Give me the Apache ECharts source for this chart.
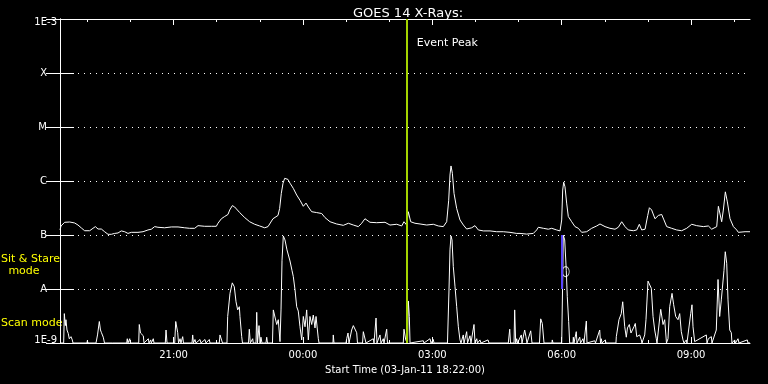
<!DOCTYPE html>
<html><head><meta charset="utf-8">
<script src="https://cdn.jsdelivr.net/npm/echarts@6/dist/echarts.min.js"></script>
<style>html,body{margin:0;padding:0;background:#000;}#c{width:768px;height:384px;}</style>
</head><body><div id="c"></div>
<script>
// ---- texts ----
const chartTitle = 'GOES 14 X-Rays:';
const xAxisTitle = 'Start Time (03-Jan-11 18:22:00)';
const eventLabel = 'Event Peak';
const modeLabels = ['Sit & Stare', 'mode', 'Scan mode'];
// ---- axes (time in minutes since 03-Jan-11 18:22) ----
const timeMin = 0, timeMax = 960;
const majorTickTimes = [158, 338, 518, 698, 878];
const majorTickLabels = ['21:00', '00:00', '03:00', '06:00', '09:00'];
const minorTickTimes = [38, 98, 218, 278, 398, 458, 578, 638, 758, 818, 938];
const yTickLabels = ['1E-9', 'A', 'B', 'C', 'M', 'X', '1E-3']; // exponents -9 .. -3
const eventTime = 482.4;
const stareMarkTime = 698, stareMarkFrom = 1e-7, stareMarkTo = 1e-8;
const circleTime = 703.6, circleFlux = 2.1e-8;

// ---- long channel (1-8 A) ----
const longTime = [
 0, 1.4, 6.5, 13.5, 20.4, 25, 29.7, 34.3, 41.3, 45.9,
 49.2, 52.9, 57.5, 62.1, 66.8, 71.4, 76, 80.7, 85.3, 90,
 94.6, 99.2, 108.5, 115.5, 122.4, 127.1, 131.7, 136.3, 145.6, 154.9,
 164.2, 173.5, 180.4, 187.4, 192, 201.3, 210.6, 217.5, 219.8, 224.5,
 229.1, 233.7, 236.1, 239.8, 243, 250, 257, 263.9, 270.9, 277.8,
 284.8, 289.4, 296.3, 303.3, 305.6, 307.9, 310.3, 312.6, 317.2, 320,
 324.6, 329.3, 333.9, 338.5, 342.3, 345.5, 350.1, 357.1, 364.1, 368.7,
 375.7, 384.9, 394.2, 401.2, 408.1, 415.1, 419.7, 424.3, 431.3, 440.6,
 452.2, 459.1, 468.5, 475.4, 478.6, 482.3, 484.6, 487.9, 493.9, 500.9,
 510.2, 519.4, 526.4, 533.3, 538, 540.8, 542.6, 544, 545.9, 548.2,
 551.9, 556.5, 561.2, 565.8, 572.8, 577.4, 582, 589, 598.3, 607.6,
 616.8, 626.1, 635.4, 640, 649.3, 658.5, 663.2, 665.5, 672.5, 679.4,
 684.1, 691, 695.7, 698, 699.4, 700.8, 702.6, 704.9, 707.2, 711.9,
 716.5, 721.2, 725.8, 732.8, 739.7, 746.7, 751.3, 758.3, 765.2, 772.2,
 776.8, 781.5, 786.1, 790.7, 797.7, 802.4, 806, 809.3, 814, 817.7,
 820, 823.2, 827.8, 832.5, 837.1, 840.3, 844.1, 851, 858, 864.9,
 871.9, 878.9, 885.8, 895.1, 902.1, 906.7, 913.7, 916, 918.3, 920.6,
 922.9, 925.7, 928.5, 932.2, 936.9, 941.5, 943.8, 946.1, 953.1, 960
];
const longFlux = [
 1.24e-7, 1.47e-7, 1.72e-7, 1.74e-7, 1.67e-7, 1.53e-7, 1.35e-7, 1.20e-7, 1.20e-7, 1.33e-7,
 1.43e-7, 1.29e-7, 1.29e-7, 1.15e-7, 1.03e-7, 1.03e-7, 1.07e-7, 1.09e-7, 1.19e-7, 1.15e-7,
 1.07e-7, 1.12e-7, 1.12e-7, 1.15e-7, 1.24e-7, 1.28e-7, 1.43e-7, 1.39e-7, 1.36e-7, 1.41e-7,
 1.41e-7, 1.36e-7, 1.33e-7, 1.33e-7, 1.49e-7, 1.45e-7, 1.45e-7, 1.45e-7, 1.65e-7, 2.0e-7,
 2.2e-7, 2.4e-7, 2.9e-7, 3.5e-7, 3.3e-7, 2.6e-7, 2.1e-7, 1.76e-7, 1.58e-7, 1.47e-7,
 1.36e-7, 1.43e-7, 2.0e-7, 2.3e-7, 3.1e-7, 5.9e-7, 9.1e-7, 1.12e-6, 1.07e-6, 9.1e-7,
 7.3e-7, 5.5e-7, 4.4e-7, 3.4e-7, 3.9e-7, 3.3e-7, 2.7e-7, 2.6e-7, 2.5e-7, 2.1e-7,
 1.76e-7, 1.60e-7, 1.51e-7, 1.65e-7, 1.53e-7, 1.43e-7, 1.65e-7, 2.0e-7, 1.72e-7, 1.69e-7,
 1.72e-7, 1.53e-7, 1.58e-7, 1.47e-7, 1.76e-7, 1.53e-7, 2.7e-7, 1.76e-7, 1.65e-7, 1.60e-7,
 1.53e-7, 1.58e-7, 1.47e-7, 1.43e-7, 1.76e-7, 4.4e-7, 1.29e-6, 1.90e-6, 1.39e-6, 5.9e-7,
 3.1e-7, 1.9e-7, 1.53e-7, 1.29e-7, 1.36e-7, 1.49e-7, 1.24e-7, 1.19e-7, 1.19e-7, 1.15e-7,
 1.15e-7, 1.12e-7, 1.07e-7, 1.07e-7, 1.04e-7, 1.07e-7, 1.24e-7, 1.39e-7, 1.33e-7, 1.28e-7,
 1.33e-7, 1.24e-7, 1.19e-7, 1.9e-7, 6.8e-7, 9.5e-7, 7.8e-7, 3.9e-7, 2.2e-7, 1.76e-7,
 1.43e-7, 1.33e-7, 1.12e-7, 1.15e-7, 1.33e-7, 1.47e-7, 1.60e-7, 1.43e-7, 1.33e-7, 1.28e-7,
 1.39e-7, 1.76e-7, 1.43e-7, 1.24e-7, 1.20e-7, 1.24e-7, 1.58e-7, 1.24e-7, 1.28e-7, 2.3e-7,
 3.2e-7, 2.9e-7, 2.0e-7, 2.3e-7, 2.4e-7, 1.9e-7, 1.43e-7, 1.33e-7, 1.24e-7, 1.20e-7,
 1.33e-7, 1.58e-7, 1.49e-7, 1.43e-7, 1.47e-7, 1.28e-7, 1.43e-7, 3.4e-7, 3.3e-7, 1.76e-7,
 2.9e-7, 6.3e-7, 4.1e-7, 2.0e-7, 1.43e-7, 1.24e-7, 1.12e-7, 1.15e-7, 1.15e-7, 1.15e-7
];

// ---- short channel (0.5-4 A) ----
const shortTime = [
 0, 5.1, 6.0, 7.4, 8.3, 9.7, 11.5, 12.9, 15.3, 17.1,
 18.1, 37.6, 38.0, 39.0, 50.1, 52.2, 54.7, 56.3, 57.7, 60.2,
 61.9, 73.3, 74.2, 75.1, 92.8, 93.6, 94.6, 97.0, 97.8, 109.5,
 110.3, 112.0, 113.7, 115.9, 116.9, 122.9, 123.8, 126.2, 127.0, 129.8,
 130.8, 146.5, 147.5, 148.9, 159.6, 161.0, 163.8, 164.9, 167.0, 168.3,
 170.7, 171.8, 183.7, 184.6, 185.7, 187.8, 189.2, 194.8, 196.2, 201.7,
 203.1, 207.7, 208.7, 221.6, 222.6, 225.0, 226.1, 232.3, 233.3, 236.5,
 239.7, 242.5, 244.9, 247.2, 249.5, 250.4, 252.8, 253.9, 262.3, 263.4,
 264.8, 268.1, 268.9, 272.7, 273.7, 274.8, 276.9, 278.3, 279.6, 281.0,
 286.6, 287.6, 288.7, 295.6, 296.8, 299.1, 301.5, 303.7, 306.1, 307.5,
 308.9, 310.7, 313.0, 315.8, 320.0, 322.8, 324.6, 327.0, 329.3, 331.5,
 333.9, 336.3, 338.5, 340.9, 343.2, 345.5, 347.8, 350.2, 352.4, 354.8,
 356.2, 359.4, 360.4, 379.8, 380.2, 381.2, 397.9, 398.9, 400.7, 402.1,
 405.8, 408.1, 410.4, 412.8, 413.9, 420.9, 422.0, 424.3, 425.7, 435.9,
 436.9, 439.7, 441.0, 445.2, 446.6, 449.8, 450.8, 454.5, 455.6, 477.6,
 478.6, 481.0, 483.5, 484.6, 486.0, 487.0, 505.5, 506.4, 514.8, 516.2,
 519.4, 520.3, 539.1, 541.2, 542.6, 544.0, 545.4, 547.2, 549.6, 551.9,
 554.2, 556.5, 557.9, 561.1, 562.1, 565.8, 567.0, 570.4, 571.8, 576.0,
 577.4, 579.8, 580.9, 584.3, 585.7, 595.5, 596.9, 623.7, 625.7, 626.8,
 631.7, 632.6, 634.0, 635.4, 636.5, 641.8, 642.8, 646.5, 648.3, 649.7,
 654.9, 656.7, 667.1, 668.8, 671.0, 673.4, 684.5, 684.9, 685.9, 698.0,
 699.4, 700.2, 702.2, 704.4, 705.8, 707.7, 709.1, 713.7, 714.2, 715.1,
 718.3, 719.3, 723.1, 724.2, 727.6, 729.0, 732.3, 733.2, 743.9, 745.0,
 750.9, 752.0, 753.1, 754.1, 758.7, 759.6, 773.5, 774.0, 777.7, 780.9,
 782.9, 785.7, 787.9, 789.5, 792.1, 794.4, 798.6, 800.4, 802.4, 806.5,
 808.8, 809.7, 813.5, 815.3, 818.1, 820.5, 822.7, 825.1, 827.4, 829.6,
 830.6, 834.4, 835.8, 839.0, 841.3, 843.8, 845.9, 848.3, 851.5, 853.8,
 856.6, 859.8, 862.2, 864.4, 866.8, 868.2, 871.4, 872.3, 877.5, 879.3,
 880.7, 883.0, 884.2, 899.2, 900.2, 902.0, 906.2, 907.1, 913.1, 915.5,
 917.8, 920.1, 923.8, 925.6, 927.6, 929.4, 931.8, 934.0, 934.9, 938.7,
 939.8, 943.3, 944.7, 956.2, 957.2, 960
];
const shortFlux = [
 1e-9, 1e-9, 3.5e-9, 2.1e-9, 2.7e-9, 1.74e-9, 1.5e-9, 1.2e-9, 1.31e-9, 1.14e-9,
 1e-9, 1e-9, 1.1e-9, 1e-9, 1e-9, 1.41e-9, 2.5e-9, 1.74e-9, 1.55e-9, 1.28e-9,
 1e-9, 1e-9, 1.06e-9, 1e-9, 1e-9, 1.2e-9, 1e-9, 1.2e-9, 1e-9, 1e-9,
 2.2e-9, 1.53e-9, 1.41e-9, 1.36e-9, 1e-9, 1.2e-9, 1e-9, 1.14e-9, 1e-9, 1.2e-9,
 1e-9, 1e-9, 1.74e-9, 1e-9, 1e-9, 2.5e-9, 1.55e-9, 1e-9, 1.2e-9, 1e-9,
 1.31e-9, 1e-9, 1e-9, 1.41e-9, 1e-9, 1.16e-9, 1e-9, 1.16e-9, 1e-9, 1.16e-9,
 1e-9, 1.16e-9, 1e-9, 1e-9, 1.41e-9, 1.31e-9, 1e-9, 1e-9, 3.1e-9, 8.3e-9,
 1.3e-8, 1.1e-8, 5.8e-9, 4.1e-9, 4.7e-9, 3.1e-9, 1.31e-9, 1e-9, 1e-9, 1.8e-9,
 1e-9, 1.2e-9, 1e-9, 1e-9, 3.7e-9, 1e-9, 2.1e-9, 1e-9, 1.28e-9, 1e-9,
 1e-9, 1.28e-9, 1e-9, 1e-9, 4.1e-9, 3.9e-9, 2.2e-9, 2.7e-9, 1.06e-9, 4.1e-9,
 3.4e-8, 9.6e-8, 8.1e-8, 5.3e-8, 3.3e-8, 2.2e-8, 1.7e-8, 9.6e-9, 4.7e-9, 3.9e-9,
 2.0e-9, 1.14e-9, 3.1e-9, 2.0e-9, 4.1e-9, 1.14e-9, 3.1e-9, 2.2e-9, 3.3e-9, 1.9e-9,
 3.1e-9, 1.2e-9, 1e-9, 1e-9, 1.41e-9, 1e-9, 1e-9, 1.2e-9, 1.53e-9, 1e-9,
 1.74e-9, 2.1e-9, 2.1e-9, 1.55e-9, 1e-9, 1e-9, 1.62e-9, 1.55e-9, 1e-9, 1.2e-9,
 1e-9, 2.9e-9, 1e-9, 1.41e-9, 1e-9, 1.2e-9, 1e-9, 1.8e-9, 1e-9, 1e-9,
 1.8e-9, 1.14e-9, 1e-9, 6.0e-9, 3.1e-9, 1e-9, 1.1e-9, 1e-9, 1.2e-9, 1e-9,
 1.16e-9, 1e-9, 1e-9, 9.6e-9, 5.3e-8, 9.6e-8, 8.1e-8, 2.6e-8, 1.1e-8, 4.7e-9,
 2.0e-9, 1.14e-9, 1e-9, 1.41e-9, 1e-9, 1.62e-9, 1e-9, 1.36e-9, 1e-9, 2.2e-9,
 1e-9, 1.2e-9, 1e-9, 1.14e-9, 1e-9, 1.14e-9, 1e-9, 1e-9, 1.8e-9, 1e-9,
 1e-9, 4.1e-9, 1e-9, 1.2e-9, 1e-9, 1.41e-9, 1e-9, 1.74e-9, 1.31e-9, 1e-9,
 1.68e-9, 1e-9, 1e-9, 2.8e-9, 2.3e-9, 1e-9, 1e-9, 1.14e-9, 1e-9, 1e-9,
 1.5e-8, 9.9e-8, 8.1e-8, 2.2e-8, 7.2e-9, 2.5e-9, 1e-9, 1e-9, 1.28e-9, 1e-9,
 1.62e-9, 1e-9, 1.28e-9, 1e-9, 1.2e-9, 1e-9, 2.55e-9, 1e-9, 1.1e-9, 1e-9,
 1.74e-9, 1e-9, 1.2e-9, 1e-9, 1.14e-9, 1e-9, 1e-9, 1.31e-9, 2.7e-9, 3.5e-9,
 5.8e-9, 2.0e-9, 1.28e-9, 1.9e-9, 2.2e-9, 1.53e-9, 2.0e-9, 2.3e-9, 1.31e-9, 1.41e-9,
 1.14e-9, 1e-9, 1.41e-9, 2.7e-9, 1.4e-8, 1.5e-8, 1.03e-8, 3.1e-9, 1.74e-9, 1.2e-9,
 1e-9, 2.9e-9, 4.2e-9, 2.2e-9, 2.7e-9, 1e-9, 1.2e-9, 4.7e-9, 8.3e-9, 5.1e-9,
 3.1e-9, 2.7e-9, 3.5e-9, 1.62e-9, 1.14e-9, 1e-9, 1.14e-9, 1e-9, 3.5e-9, 5.1e-9,
 2.0e-9, 1.06e-9, 1e-9, 1.41e-9, 1e-9, 1.2e-9, 1.31e-9, 1e-9, 1.74e-9, 1.5e-8,
 3.1e-9, 6.3e-9, 2.2e-8, 4.9e-8, 3.0e-8, 6.3e-9, 1.74e-9, 1.55e-9, 1e-9, 1.14e-9,
 1e-9, 1.2e-9, 1e-9, 1.14e-9, 1e-9, 1e-9
];

// ---- build chart ----
const FONT = 'DejaVu Sans';
const WHITE = '#ffffff';
const YELLOW = '#ffff00';
const EVENT_COLOR = '#a4d400';
const pairs = (ts, fs) => ts.map((t, i) => [t, fs[i]]);
const xLabel = v => { const i = majorTickTimes.indexOf(Math.round(v)); return i >= 0 ? majorTickLabels[i] : ''; };
const yLabel = v => {
  const e = Math.round(Math.log10(v));
  const s = yTickLabels[e + 9];
  if (e === -3) return '{t|' + s + '}';
  if (e === -9) return '{b|' + s + '}';
  return '{m|' + s + '}';
};
const baseX = { type: 'value', min: timeMin, max: timeMax, gridIndex: 0, splitLine: { show: false } };
const tickStyle = { color: WHITE, width: 1 };

const chart = echarts.init(document.getElementById('c'), null, { renderer: 'canvas' });
const option = {
  backgroundColor: '#000000',
  animation: false,
  title: {
    text: chartTitle, left: 403, top: 2, textAlign: 'center',
    textStyle: { color: WHITE, fontFamily: FONT, fontSize: 13, fontWeight: 'normal' }
  },
  grid: { left: 60, right: 18, top: 19, bottom: 41, containLabel: false },
  xAxis: [
    Object.assign({}, baseX, {
      position: 'bottom',
      axisLine: { show: true, lineStyle: { color: WHITE, width: 1 } },
      axisTick: { show: true, inside: true, length: 6, customValues: majorTickTimes, lineStyle: tickStyle },
      axisLabel: { show: true, customValues: majorTickTimes, formatter: xLabel, color: WHITE, fontFamily: FONT, fontSize: 10, margin: 7 },
      name: xAxisTitle, nameLocation: 'middle', nameGap: 22,
      nameTextStyle: { color: WHITE, fontFamily: FONT, fontSize: 10 }
    }),
    Object.assign({}, baseX, {
      position: 'bottom',
      axisLine: { show: false },
      axisTick: { show: true, inside: true, length: 3, customValues: minorTickTimes, lineStyle: tickStyle },
      axisLabel: { show: false }
    }),
    Object.assign({}, baseX, {
      position: 'top',
      axisLine: { show: true, lineStyle: { color: WHITE, width: 1 } },
      axisTick: { show: true, inside: true, length: 6, customValues: majorTickTimes, lineStyle: tickStyle },
      axisLabel: { show: false }
    }),
    Object.assign({}, baseX, {
      position: 'top',
      axisLine: { show: false },
      axisTick: { show: true, inside: true, length: 3, customValues: minorTickTimes, lineStyle: tickStyle },
      axisLabel: { show: false }
    })
  ],
  yAxis: [
    {
      type: 'log', logBase: 10, min: 1e-9, max: 1e-3, interval: 1, position: 'left',
      axisLine: { show: true, lineStyle: { color: WHITE, width: 1 } },
      axisTick: { show: true, inside: true, length: 14, lineStyle: tickStyle },
      axisLabel: {
        show: true, formatter: yLabel, margin: 3, color: WHITE, fontFamily: FONT, fontSize: 10,
        rich: {
          t: { color: WHITE, fontFamily: FONT, fontSize: 10, padding: [6, 0, 0, 0] },
          b: { color: WHITE, fontFamily: FONT, fontSize: 10, padding: [0, 0, 6, 0] },
          m: { color: WHITE, fontFamily: FONT, fontSize: 10, padding: [0, 10, 0, 0] }
        }
      },
      splitLine: { show: true, lineStyle: { color: WHITE, width: 1, type: [1, 5] } }
    },
    {
      type: 'log', logBase: 10, min: 1e-9, max: 1e-3, interval: 1, position: 'right',
      axisLine: { show: true, lineStyle: { color: WHITE, width: 1 } },
      axisTick: { show: true, inside: true, length: 14, lineStyle: tickStyle },
      axisLabel: { show: false },
      splitLine: { show: false }
    }
  ],
  series: [
    {
      name: 'long', type: 'line', xAxisIndex: 0, yAxisIndex: 0,
      data: pairs(longTime, longFlux), showSymbol: false, clip: true,
      lineStyle: { color: WHITE, width: 1 }, silent: true,
      markLine: {
        silent: true, symbol: 'none', animation: false,
        label: { show: false },
        data: [
          { xAxis: eventTime, lineStyle: { color: EVENT_COLOR, width: 2, type: 'solid' } },
          [
            { coord: [stareMarkTime, stareMarkFrom], lineStyle: { color: '#5a46ff', width: 2, type: 'solid' } },
            { coord: [stareMarkTime, stareMarkTo] }
          ]
        ]
      }
    },
    {
      name: 'short', type: 'line', xAxisIndex: 0, yAxisIndex: 0,
      data: pairs(shortTime, shortFlux), showSymbol: false, clip: true,
      lineStyle: { color: WHITE, width: 1 }, silent: true
    },
    {
      name: 'marker', type: 'scatter', xAxisIndex: 0, yAxisIndex: 0,
      data: [[circleTime, circleFlux]], symbol: 'circle', symbolSize: [7, 10],
      itemStyle: { color: 'rgba(0,0,0,0)', borderColor: WHITE, borderWidth: 1 }, silent: true
    }
  ]
};
chart.setOption(option);

const ex = chart.convertToPixel({ xAxisIndex: 0 }, eventTime);
const txt = (text, x, y, color, align) => ({
  type: 'text', x: x, y: y, silent: true,
  style: { text: text, fill: color, font: '11px "DejaVu Sans"', textAlign: align || 'left', textVerticalAlign: 'middle' }
});
chart.setOption({
  graphic: [
    txt(eventLabel, ex + 10, 43, WHITE),
    txt(modeLabels[0], 1, 259, YELLOW),
    txt(modeLabels[1], 24, 271, YELLOW, 'center'),
    txt(modeLabels[2], 1, 323, YELLOW)
  ]
});
</script>
</body></html>
